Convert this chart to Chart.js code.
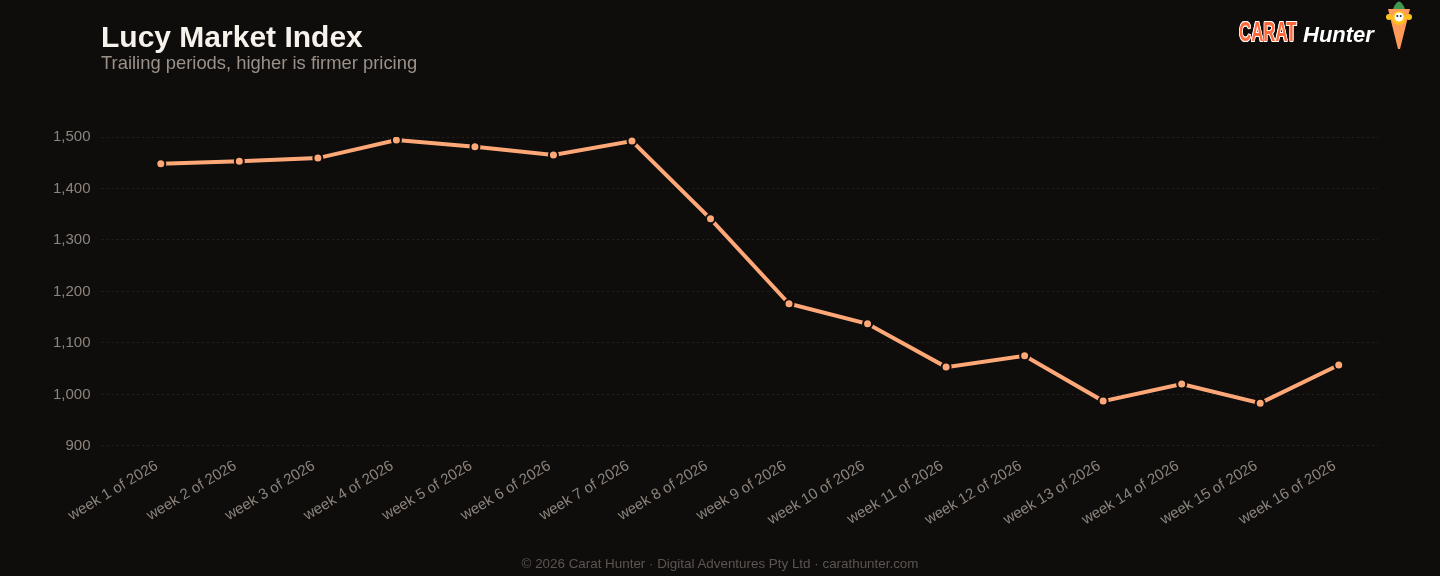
<!DOCTYPE html>
<html>
<head>
<meta charset="utf-8">
<title>Lucy Market Index</title>
<script src="https://cdn.jsdelivr.net/npm/chart.js@4.4.1/dist/chart.umd.min.js"></script>
<style>
  html, body {
    margin: 0;
    padding: 0;
    background: #0f0d0c;
    font-family: "Liberation Sans", Arial, sans-serif;
  }
  .wrap {
    position: relative;
    width: 1440px;
    height: 576px;
    overflow: hidden;
  }
  #chart {
    position: absolute;
    left: 0;
    top: 0;
  }
  .title {
    position: absolute;
    left: 101px;
    top: 20px;
    font-size: 30px;
    font-weight: bold;
    color: #f7f2ec;
  }
  .subtitle {
    position: absolute;
    left: 101px;
    top: 52px;
    font-size: 18.4px;
    color: #9a918a;
  }
  .logo {
    position: absolute;
    left: 1238px;
    top: 21px;
    height: 28px;
    width: 140px;
  }
  .logo .carat {
    position: absolute;
    left: 1px;
    top: -5px;
    font-weight: bold;
    font-size: 28px;
    color: #ff6a3d;
    text-shadow: 1px 0 0 #fff, -1px 0 0 #fff, 0 1px 0 #fff, 0 -1px 0 #fff,
      1px 1px 0 #fff, -1px -1px 0 #fff, 1px -1px 0 #fff, -1px 1px 0 #fff;
    transform: scaleX(0.6);
    transform-origin: left top;
  }
  .logo .hunter {
    position: absolute;
    left: 65px;
    top: 1px;
    font-weight: bold;
    font-style: italic;
    font-size: 22px;
    color: #ffffff;
  }
  .carrot {
    position: absolute;
    left: 1385px;
    top: 0;
  }
  .footer {
    position: absolute;
    left: 0;
    width: 1440px;
    top: 556px;
    text-align: center;
    font-size: 13.4px;
    color: #5c5551;
  }
</style>
</head>
<body>
<div class="wrap">
  <canvas id="chart" width="1440" height="576"></canvas>
  <div class="title">Lucy Market Index</div>
  <div class="subtitle">Trailing periods, higher is firmer pricing</div>
  <div class="logo"><span class="carat">CARAT</span><span class="hunter">Hunter</span></div>
  <svg class="carrot" width="28" height="52" viewBox="0 0 28 52">
    <path d="M8 9 Q14 -6 20 9 Z" fill="#3f9a4f"/>
    <path d="M3 9 L25 9 L15 49 L13 49 Z" fill="#ff9a5a"/>
    <circle cx="4" cy="17" r="3" fill="#ffc21a"/>
    <circle cx="24" cy="17" r="3" fill="#ffc21a"/>
    <circle cx="14" cy="18" r="7" fill="#ffc21a"/>
    <circle cx="14" cy="17" r="4.5" fill="#ffffff"/>
    <circle cx="12.3" cy="16" r="1" fill="#222"/>
    <circle cx="15.7" cy="16" r="1" fill="#222"/>
  </svg>
  <div class="footer">© 2026 Carat Hunter · Digital Adventures Pty Ltd · carathunter.com</div>
</div>
<script>
  // Chart data
  const weeks = [
    "week 1 of 2026", "week 2 of 2026", "week 3 of 2026", "week 4 of 2026",
    "week 5 of 2026", "week 6 of 2026", "week 7 of 2026", "week 8 of 2026",
    "week 9 of 2026", "week 10 of 2026", "week 11 of 2026", "week 12 of 2026",
    "week 13 of 2026", "week 14 of 2026", "week 15 of 2026", "week 16 of 2026"
  ];
  const indexValues = [
    1448, 1453, 1459, 1494, 1481, 1465, 1492, 1341,
    1176, 1137, 1053, 1075, 987, 1020, 983, 1057
  ];
  const yTicks = [900, 1000, 1100, 1200, 1300, 1400, 1500];

  const lineColor = "#ffa877";
  const bgColor = "#0f0d0c";
  const tickColor = "#8c847d";

  new Chart(document.getElementById("chart").getContext("2d"), {
    type: "line",
    data: {
      labels: weeks,
      datasets: [
        {
          label: "Lucy Market Index",
          data: indexValues,
          borderColor: lineColor,
          borderWidth: 4,
          backgroundColor: lineColor,
          pointBackgroundColor: lineColor,
          pointBorderColor: bgColor,
          pointBorderWidth: 2,
          pointRadius: 4.5,
          tension: 0,
          fill: false,
        },
      ],
    },
    options: {
      responsive: false,
      animation: false,
      layout: {
        padding: { top: 137, left: 42, right: 62, bottom: 36 },
      },
      plugins: {
        legend: { display: false },
        tooltip: { enabled: false },
      },
      scales: {
        x: {
          offset: true,
          grid: { display: false, drawTicks: false },
          border: { display: false },
          ticks: {
            color: tickColor,
            font: { family: "Liberation Sans", size: 15 },
            minRotation: 31,
            maxRotation: 31,
            padding: 11,
            labelOffset: -4,
          },
        },
        y: {
          min: yTicks[0],
          max: yTicks[yTicks.length - 1],
          afterBuildTicks: (axis) => {
            axis.ticks = yTicks.map((v) => ({ value: v }));
          },
          border: { display: false, dash: [2, 3] },
          grid: {
            color: "rgba(255,255,255,0.09)",
            tickLength: 20,
            tickBorderDash: [2, 3],
            lineWidth: 1,
          },
          ticks: {
            color: tickColor,
            font: { family: "Liberation Sans", size: 15 },
            padding: 11,
            callback: (v) => v.toLocaleString("en-US"),
          },
        },
      },
    },
  });
</script>
</body>
</html>
